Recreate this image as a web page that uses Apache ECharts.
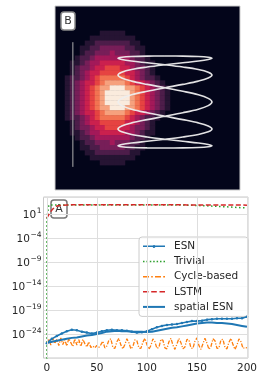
<!DOCTYPE html>
<html><head><meta charset="utf-8">
<script src="https://cdn.jsdelivr.net/npm/echarts@6/dist/echarts.min.js"></script>
<style>html,body{margin:0;padding:0;background:#fff}#c{width:260px;height:377px}</style>
</head><body><div id="c"></div>
<script>
// ---------- Panel B: intensity cells (digits 0-9), rows top->bottom, columns 0..25 ----------
const heatRowStart = 5;
const heatRows = [
"00000000011111000000000000",
"00000001111111110000000000",
"00000011222222211000000000",
"00000112233333221100000000",
"00000122333433322100000000",
"00001223444444432210000000",
"00011234455555443211000000",
"00012334556665543321000000",
"00012345566666554321000000",
"00122345677777654322100000",
"00123455678888765543210000",
"00123456788999887654321000",
"00123456789999987654321000",
"00123456789999987654321000",
"00123456789999987654321000",
"00123456788999887654321000",
"00123455678888765543210000",
"00122345677777654322100000",
"00012345566666554321000000",
"00012334556665543321000000",
"00011234455555443211000000",
"00001223444444432210000000",
"00000122333433322100000000",
"00000112233333221100000000",
"00000011222222211000000000",
"00000001111111110000000000",
"00000000011111000000000000"
];
// white trajectory (panel B data units)
const lissX = [0,.38,.71,.92,1,.92,.71,.38,0,-.38,-.71,-.92,-1,-.92,-.71,-.38,
0,.38,.71,.92,1,.92,.71,.38,0,-.38,-.71,-.92,-1,-.92,-.71,-.38,
0,.38,.71,.92,1,.92,.71,.38,0,-.38,-.71,-.92,-1,-.92,-.71,-.38,
0,.38,.71,.92,1,.92,.71,.38,0,-.38,-.71,-.92,-1,-.92,-.71,-.38,
0,.38,.71,.92,1,.92,.71,.38,0,-.38,-.71,-.92,-1,-.92,-.71,-.38,0];
const lissY = [1,.997,.988,.972,.951,.924,.891,.853,.809,.760,.707,.649,.588,.522,.454,.383,.309,.233,.156,.078,
0,-.078,-.156,-.233,-.309,-.383,-.454,-.522,-.588,-.649,-.707,-.760,-.809,-.853,-.891,-.924,-.951,-.972,-.988,-.997,
-1,-.997,-.988,-.972,-.951,-.924,-.891,-.853,-.809,-.760,-.707,-.649,-.588,-.522,-.454,-.383,-.309,-.233,-.156,-.078,
0,.078,.156,.233,.309,.383,.454,.522,.588,.649,.707,.760,.809,.853,.891,.924,.951,.972,.988,.997,1];
const barX = [-1.96,-1.96];
const barY = [1.30,-1.41];

// ---------- Panel A (values are log10 of the error) ----------
const xTicks = [0,50,100,150,200];
const yTickExps = [1,-4,-9,-14,-19,-24];
const blueX = [0,5,10,15,20,25,30,35,40,45,50,55,60,65,70,75,80,85,90,95,100,105,110,115,120,125,130,135,140,145,150,155,160,165,170,175,180,185,190,195,200];
const esn = [-25.9,-25.0,-24.4,-23.9,-23.4,-23.1,-23.2,-23.5,-23.7,-23.9,-23.7,-23.4,-23.2,-23.1,-23.2,-23.2,-23.3,-23.5,-23.7,-23.6,-23.4,-23.0,-22.6,-22.3,-22.1,-22.0,-21.9,-21.7,-21.5,-21.3,-21.3,-21.2,-21.0,-20.9,-20.8,-20.8,-20.8,-20.8,-20.7,-20.7,-20.4];
const spatialEsn = [-25.9,-25.6,-25.4,-25.2,-25.0,-24.8,-24.7,-24.5,-24.3,-24.2,-24.0,-23.8,-23.5,-23.4,-23.3,-23.4,-23.4,-23.5,-23.5,-23.5,-23.6,-23.5,-23.3,-23.1,-22.9,-22.7,-22.6,-22.4,-22.2,-22.0,-21.8,-21.7,-21.6,-21.6,-21.7,-21.7,-21.8,-21.9,-22.1,-22.3,-22.5];
const cycleX = [0,2,4,6,8,10,12,14,16,18,20,22,24,26,28,30,32,34,36,38,40,42,44,46,48,50,52,54,56,58,60,62,64,66,68,70,72,74,76,78,80,82,84,86,88,90,92,94,96,98,100,102,104,106,108,110,112,114,116,118,120,122,124,126,128,130,132,134,136,138,140,142,144,146,148,150,152,154,156,158,160,162,164,166,168,170,172,174,176,178,180,182,184,186,188,190,192,194,196,198,200];
const cycle = [-25.9,-25.0,-26.3,-24.9,-26.0,-25.1,-26.4,-24.8,-26.2,-25.2,-26.5,-24.9,-25.8,-26.6,-25.0,-26.3,-25.2,-26.6,-25.1,-26.0,-26.7,-25.6,-26.8,-26.5,-26.9,-26.4,-26.8,-26.2,-25.5,-26.9,-26.5,-25.3,-25.0,-26.8,-27.0,-25.6,-24.9,-26.3,-27.1,-26.2,-25.0,-25.8,-27.1,-26.6,-25.2,-25.4,-26.9,-27.0,-25.7,-24.9,-26.2,-27.2,-26.4,-25.0,-25.6,-27.0,-26.8,-25.1,-25.3,-26.9,-27.1,-25.6,-24.9,-26.3,-27.2,-26.1,-24.9,-25.8,-27.1,-26.7,-25.1,-25.2,-26.9,-27.0,-25.5,-24.8,-26.4,-27.2,-26.0,-24.9,-25.9,-27.2,-26.6,-25.0,-25.4,-27.0,-26.9,-25.2,-25.1,-26.8,-27.1,-25.7,-24.9,-26.2,-27.2,-26.3,-25.0,-25.6,-27.0,-26.8,-26.9];
const lstmX = [0,2,4,6,8,10,14,20,40,60,80,100,120,140,160,180,200];
const lstm = [0.2,0.9,1.6,2.1,2.45,2.7,2.85,2.95,3.0,3.0,3.0,3.0,3.0,2.95,2.95,2.95,2.9];
const trivialX = [0,0,2,10,50,100,140,160,180,200];
const trivial = [-35,0.0,2.9,2.95,2.95,2.95,2.9,2.75,2.55,2.3];

// ---------- build ----------
const heatData = [];
heatRows.forEach((row, r) => {
  for (let c = 0; c < row.length; c++) {
    const v = +row[c];
    if (v > 0) heatData.push([c, heatRowStart + r, v]);
  }
});
const cats37 = Array.from({length: 37}, (_, i) => i);
const pairs = (xs, ys) => xs.map((x, i) => [x, ys[i]]);
const FONT = 'DejaVu Sans';
const TXT = '#262626';
const ICON = {
  esn: 'path://M0,1.1H22V2.5H0Z M12.4,1.8A1.4,1.4,0,1,1,12.39,1.75Z',
  trivial: 'path://M0,0h1.5v1.5h-1.5Z M3.4,0h1.5v1.5h-1.5Z M6.8,0h1.5v1.5h-1.5Z M10.2,0h1.5v1.5h-1.5Z M13.6,0h1.5v1.5h-1.5Z M17,0h1.5v1.5h-1.5Z M20.5,0h1.5v1.5h-1.5Z',
  cycle: 'path://M0,0h6v1.5h-6Z M8.2,0h1.6v1.5h-1.6Z M12,0h6v1.5h-6Z M20.2,0h1.8v1.5h-1.8Z',
  lstm: 'path://M0,0h5.5v1.5h-5.5Z M8.2,0h5.6v1.5h-5.6Z M16.5,0h5.5v1.5h-5.5Z',
  spatial: 'path://M0,0h22v2h-22Z'
};

const chart = echarts.init(document.getElementById('c'), null, {renderer: 'canvas'});
chart.setOption({
  animation: false,
  textStyle: {fontFamily: FONT},
  grid: [
    {left: 55, top: 6, width: 185, height: 184, show: true, backgroundColor: '#03051a', borderColor: '#cccccc', borderWidth: 1, containLabel: false},
    {left: 43.5, top: 197, right: 11, bottom: 19, show: true, backgroundColor: '#ffffff', borderColor: '#c8c8c8', borderWidth: 1, containLabel: false}
  ],
  xAxis: [
    {type: 'category', gridIndex: 0, data: cats37, show: false},
    {type: 'value', gridIndex: 0, min: -2.34, max: 1.596, show: false},
    {type: 'value', gridIndex: 1, min: -3.3, max: 201,
      axisLine: {show: false}, axisTick: {show: false}, splitLine: {show: false},
      axisLabel: {customValues: xTicks, color: TXT, fontSize: 10.5, margin: 5, fontFamily: FONT}}
  ],
  yAxis: [
    {type: 'category', gridIndex: 0, data: cats37, inverse: true, show: false},
    {type: 'value', gridIndex: 0, min: -1.913, max: 2.087, show: false},
    {type: 'value', gridIndex: 1, min: -29, max: 4.6, interval: 5,
      axisLine: {show: false}, axisTick: {show: false},
      splitLine: {show: true, lineStyle: {color: '#dedede', width: 1}},
      axisLabel: {
        margin: 2, color: TXT,
        formatter: v => {
          const e = Math.round(v);
          if (Math.abs(v - e) > 1e-6 || yTickExps.indexOf(e) < 0) return '';
          return '{b|10}{s|' + (e < 0 ? '\u2212' + (-e) : e) + '}';
        },
        rich: {
          b: {fontSize: 10.5, color: TXT, fontFamily: FONT, lineHeight: 14, verticalAlign: 'bottom'},
          s: {fontSize: 7.5, color: TXT, fontFamily: FONT, lineHeight: 14, verticalAlign: 'top', padding: [0, 0, 0, 0.5]}
        }
      }}
  ],
  visualMap: {
    show: false, seriesIndex: 0, min: 0, max: 9, dimension: 2,
    inRange: {color: ['#03051a','#221331','#451c47','#6a1f56','#921c5b','#b91657','#d92847','#ed513e','#f47d57','#f6a582','#faebdd']}
  },
  legend: {
    orient: 'vertical', left: 139, top: 237,
    padding: [4, 10, 4, 4], itemGap: 4.1, itemWidth: 22, itemHeight: 10,
    backgroundColor: 'rgba(255,255,255,0.85)', borderColor: '#cccccc', borderWidth: 1, borderRadius: 3,
    textStyle: {fontSize: 10.5, color: TXT, fontFamily: FONT, padding: [0, 0, 0, 4]},
    data: [
      {name: 'ESN', icon: ICON.esn},
      {name: 'Trivial', icon: ICON.trivial},
      {name: 'Cycle-based', icon: ICON.cycle},
      {name: 'LSTM', icon: ICON.lstm},
      {name: 'spatial ESN', icon: ICON.spatial}
    ]
  },
  graphic: [
    {type: 'group', children: [
      {type: 'rect', shape: {x: 61, y: 12, width: 14, height: 18, r: 3}, style: {fill: '#ffffff', stroke: '#8a8a8a', lineWidth: 1.5}},
      {type: 'text', x: 68, y: 21, style: {text: 'B', fill: '#333', font: '11px "DejaVu Sans"', align: 'center', verticalAlign: 'middle'}}
    ], z: 100},
    {type: 'group', children: [
      {type: 'rect', shape: {x: 51, y: 200, width: 16, height: 18, r: 3}, style: {fill: '#ffffff', stroke: '#777777', lineWidth: 1.5}},
      {type: 'text', x: 59, y: 209.5, style: {text: 'A', fill: '#333', font: '11px "DejaVu Sans"', align: 'center', verticalAlign: 'middle'}}
    ], z: 100}
  ],
  series: [
    {type: 'heatmap', xAxisIndex: 0, yAxisIndex: 0, data: heatData, itemStyle: {borderWidth: 0}, emphasis: {disabled: true}},
    {type: 'line', xAxisIndex: 1, yAxisIndex: 1, data: pairs(barX, barY), symbol: 'none', lineStyle: {color: '#b0b0b0', width: 1}, silent: true},
    {type: 'line', xAxisIndex: 1, yAxisIndex: 1, data: pairs(lissX, lissY), symbol: 'none', smooth: 0.35,
      lineStyle: {color: 'rgba(238,238,238,0.95)', width: 1.6}, silent: true},
    {type: 'line', xAxisIndex: 2, yAxisIndex: 2, data: [], symbol: 'none', silent: true, z: 1,
      markLine: {silent: true, symbol: 'none', label: {show: false}, lineStyle: {color: '#dedede', width: 1, type: 'solid'},
        data: xTicks.map(v => ({xAxis: v}))}},
    {name: 'ESN', type: 'line', xAxisIndex: 2, yAxisIndex: 2, data: pairs(blueX, esn), z: 4,
      symbol: 'circle', symbolSize: 2.5, showSymbol: true, itemStyle: {color: '#1f77b4'}, lineStyle: {color: '#1f77b4', width: 1.6}},
    {name: 'Trivial', type: 'line', xAxisIndex: 2, yAxisIndex: 2, data: pairs(trivialX, trivial), z: 3, symbol: 'none',
      itemStyle: {color: '#2ca02c'}, lineStyle: {color: '#2ca02c', width: 1.5, type: [1.5, 2.5]}},
    {name: 'Cycle-based', type: 'line', xAxisIndex: 2, yAxisIndex: 2, data: pairs(cycleX, cycle), z: 3, symbol: 'none',
      itemStyle: {color: '#ff7f0e'}, lineStyle: {color: '#ff7f0e', width: 1.3, type: [4, 1.5, 1.2, 1.5]}},
    {name: 'LSTM', type: 'line', xAxisIndex: 2, yAxisIndex: 2, data: pairs(lstmX, lstm), z: 3, symbol: 'none',
      itemStyle: {color: '#d62728'}, lineStyle: {color: '#d62728', width: 1.5, type: [5, 2.5]}},
    {name: 'spatial ESN', type: 'line', xAxisIndex: 2, yAxisIndex: 2, data: pairs(blueX, spatialEsn), z: 4, symbol: 'none',
      itemStyle: {color: '#1f77b4'}, lineStyle: {color: '#1f77b4', width: 2}}
  ]
});
</script></body></html>
